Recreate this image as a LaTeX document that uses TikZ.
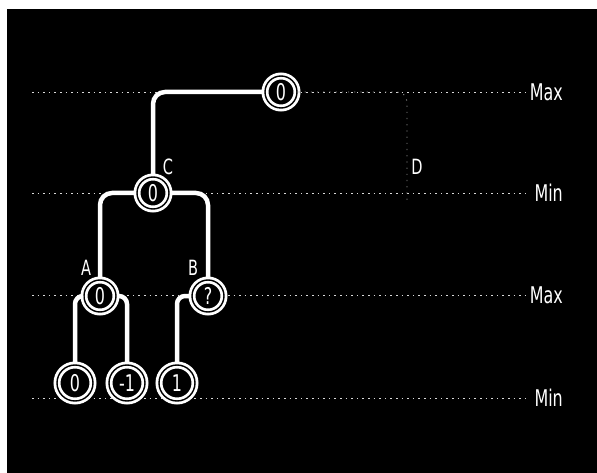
\documentclass[tikz,border=0pt]{standalone}
\usepackage{graphicx}
\usepackage{fontspec}
\setmainfont{DejaVu Sans Condensed}
\newcommand{\narrowtxt}[1]{\scalebox{0.77}[1]{#1}}
\begin{document}
\begin{tikzpicture}[x=1pt,y=-1pt,
  val/.style={circle,draw=white,line width=2.8pt,double=black,double distance=1.4pt,
    fill=black,minimum size=32pt,inner sep=0pt,text=white,font=\fontsize{23}{23}\selectfont},
  leaf/.style={val,minimum size=36pt},
  lbl/.style={text=white,font=\fontsize{21}{21}\selectfont,inner sep=0pt},
  lvl/.style={text=white,font=\fontsize{23}{23}\selectfont,inner sep=0pt,anchor=east},
  guide/.style={white!85!black,line width=0.8pt,dash pattern=on 1.6pt off 4pt},
  edge/.style={white,line width=4.5pt,rounded corners=12pt},
  ghost/.style={white!55!black,line width=0.8pt,dash pattern=on 1.2pt off 5pt,rounded corners=10pt}]
\useasboundingbox (0,0) rectangle (597,473);
\fill[white] (0,0) rectangle (597,473);
\fill[black] (7,9) rectangle (597,473);
% level guides
\draw[guide] (32,92) -- (526,92);
\draw[guide] (32,193) -- (526,193);
\draw[guide] (32,295) -- (526,295);
\draw[guide] (32,398) -- (526,398);
\node[lvl] (lmax1) at (563,92) {\narrowtxt{Max}};
\node[lvl] (lmin1) at (563,193) {\narrowtxt{Min}};
\node[lvl] (lmax2) at (563,295) {\narrowtxt{Max}};
\node[lvl] (lmin2) at (563,398) {\narrowtxt{Min}};
% nodes
\node[val] (root) at (281,92) {\narrowtxt{0}};
\node[val] (C) at (153,193) {\narrowtxt{0}};
\node[val] (A) at (100,296) {\narrowtxt{0}};
\node[val] (B) at (208,296) {\narrowtxt{?}};
\node[leaf] (L1) at (75,383) {\narrowtxt{0}};
\node[leaf] (L2) at (127,383) {\narrowtxt{-1}};
\node[leaf] (L3) at (177,383) {\narrowtxt{1}};
\coordinate (Dpt) at (407,202);
% labels
\node[lbl] (lC) at (168,167) {\narrowtxt{C}};
\node[lbl] (lD) at (417,167) {\narrowtxt{D}};
\node[lbl] (lA) at (86,268) {\narrowtxt{A}};
\node[lbl] (lB) at (193,268) {\narrowtxt{B}};
% edges
\draw[edge] (root.west) -| (C.north);
\draw[edge] (C.west) -| (A.north);
\draw[edge] (C.east) -| (B.north);
\draw[edge,rounded corners=8pt] (A.west) -| (L1.north);
\draw[edge,rounded corners=8pt] (A.east) -| (L2.north);
\draw[edge,rounded corners=8pt] (B.west) -| (L3.north);
\draw[ghost] (root.east) -| (Dpt);
\end{tikzpicture}
\end{document}
